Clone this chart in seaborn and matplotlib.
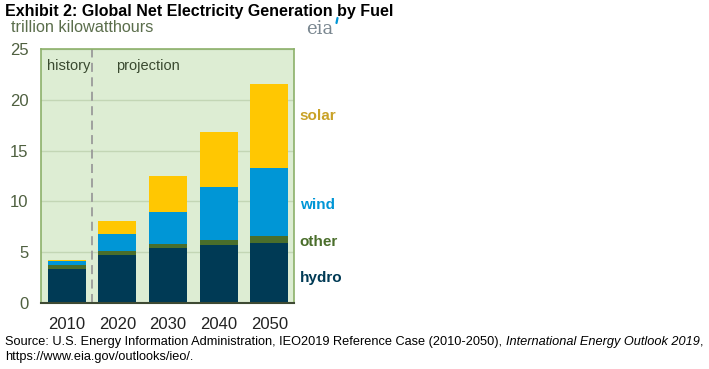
import matplotlib
matplotlib.use("Agg")
import matplotlib.pyplot as plt
import matplotlib.lines as mlines
import seaborn as sns
import pandas as pd
import numpy as np

years = ["2010", "2020", "2030", "2040", "2050"]
hydro = [3.35, 4.67, 5.36, 5.72, 5.92]
other = [0.40, 0.40, 0.46, 0.46, 0.63]
wind = [0.38, 1.70, 3.16, 5.27, 6.71]
solar = [0.05, 1.30, 3.52, 5.43, 8.35]

series = ["hydro", "other", "wind", "solar"]
colors = {"hydro": "#003A55", "other": "#4A6E2B", "wind": "#0096D6", "solar": "#FFC702"}
label_colors = {"hydro": "#003A55", "other": "#4A6E2B", "wind": "#0096D6", "solar": "#C9A227"}

sns.set_style("white")
plt.rcParams["font.family"] = ["Liberation Sans", "DejaVu Sans"]

df = pd.DataFrame({"year": years, "hydro": hydro, "other": other, "wind": wind, "solar": solar})
cum = df[series].cumsum(axis=1)

fig = plt.figure(figsize=(7.09, 3.69), dpi=100)
ax = fig.add_axes([0.0578, 0.1797, 0.357, 0.6863])
ax.set_facecolor("#DDEDD3")

for s in reversed(series):
    sns.barplot(x=df["year"], y=cum[s], color=colors[s], width=0.75, ax=ax,
                saturation=1, zorder=3, linewidth=0, edgecolor="none")

ax.set_xlim(-0.51, 4.49)
ax.set_ylim(0, 25)
ax.set_yticks([0, 5, 10, 15, 20, 25])
ax.grid(axis="y", color="#C3D6B5", linewidth=1, zorder=0)
ax.set_axisbelow(True)
ax.set_xlabel("")
ax.set_ylabel("")
for sp in ["top", "right", "left"]:
    ax.spines[sp].set_color("#8CB06A")
    ax.spines[sp].set_linewidth(1.2)
ax.spines["bottom"].set_color("#3E4A33")
ax.spines["bottom"].set_linewidth(1.5)
ax.spines["bottom"].set_zorder(5)
ax.tick_params(axis="y", length=0, labelsize=12, labelcolor="#4F6040", pad=9)
ax.tick_params(axis="x", length=0, labelsize=12, labelcolor="#222222", pad=10)

ax.axvline(0.5, color="#9A9A9A", linestyle=(0, (5, 3)), linewidth=1.3, zorder=2)
ax.text(-0.40, 23.4, "history", fontsize=10.5, color="#3A4A30", va="center", ha="left")
ax.text(0.97, 23.4, "projection", fontsize=10.5, color="#3A4A30", va="center", ha="left")

label_y = {"solar": 18.4, "wind": 9.6, "other": 6.0, "hydro": 2.4}
for s in series:
    ax.text(4.6, label_y[s], s, fontsize=11, fontweight="bold", color=label_colors[s],
            va="center", ha="left", clip_on=False)

fig.text(0.007, 0.968, "Exhibit 2: Global Net Electricity Generation by Fuel",
         fontsize=11.5, fontweight="bold", color="#000000", va="center", ha="left")
fig.text(0.016, 0.925, "trillion kilowatthours", fontsize=11.7, color="#5B6E4C",
         va="center", ha="left")
fig.text(0.432, 0.922, "eia", fontsize=13, color="#7A8790", family="DejaVu Serif",
         va="center", ha="left")
# small blue apostrophe mark of the eia logo
W, H = 709.0, 369.0
fig.add_artist(mlines.Line2D([337.5 / W, 336.5 / W], [1 - 18 / H, 1 - 23 / H],
                             color="#0096D6", linewidth=1.6, transform=fig.transFigure))

src_fam = ["Liberation Sans Narrow", "Liberation Sans", "DejaVu Sans"]
fig.text(0.007, 0.073, "Source: U.S. Energy Information Administration, IEO2019 Reference Case (2010-2050), ",
         fontsize=9.2, color="#000000", va="center", ha="left", family=src_fam)
t1 = fig.texts[-1]
fig.canvas.draw()
bb = t1.get_window_extent()
fig.text(bb.x1 / fig.bbox.width, 0.073, "International Energy Outlook 2019", fontsize=9.2,
         style="italic", color="#000000", va="center", ha="left", family=src_fam)
t2 = fig.texts[-1]
fig.canvas.draw()
bb2 = t2.get_window_extent()
fig.text(bb2.x1 / fig.bbox.width, 0.073, ",", fontsize=9.2, color="#000000", va="center",
         ha="left", family=src_fam)
fig.text(0.007, 0.032, "https://www.eia.gov/outlooks/ieo/.", fontsize=9.2, color="#000000",
         va="center", ha="left", family=src_fam)

fig.savefig("out.png", dpi=100)
